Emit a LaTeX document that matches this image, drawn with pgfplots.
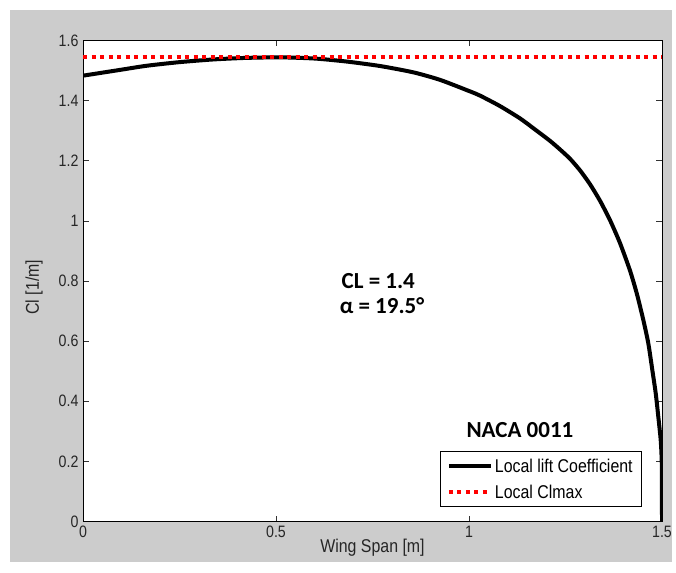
\documentclass[border=0pt]{standalone}
\usepackage{pgfplots}
\pgfplotsset{compat=1.18}
\usepackage{fontspec}
\setmainfont{Liberation Sans}[FakeStretch=0.86]
\newfontfamily\calibri{Carlito}
\definecolor{figgray}{RGB}{204,204,204}

\begin{document}
\begin{tikzpicture}[x=1pt,y=1pt]
\fill[white] (0,0) rectangle (676,572);
\fill[figgray] (10,10) rectangle (672,562);
\begin{axis}[
  at={(83pt,50.5pt)}, anchor=south west,
  scale only axis, width=579pt, height=481pt,
  xmin=0, xmax=1.5, ymin=0, ymax=1.6,
  xtick={0,0.5,1,1.5},
  ytick={0,0.2,0.4,0.6,0.8,1,1.2,1.4,1.6},
  tick align=inside, tick pos=both,
  major tick length=6pt,
  axis line style={black, line width=0.8pt},
  every tick/.style={black!80, line width=0.6pt},
  axis background/.style={fill=white},
  /pgf/number format/assume math mode=true,
  tick label style={font=\fontsize{16.5}{19}\selectfont, text=black!85},
  xticklabel style={yshift=-1pt},
  yticklabel style={xshift=-1pt},
  xlabel={Wing Span [m]},
  ylabel={Cl [1/m]},
  label style={font=\fontsize{18.5}{22}\selectfont, text=black!85},
  xlabel style={at={(axis description cs:0.5,-0.055)}, anchor=center},
  ylabel style={at={(axis description cs:-0.0846,0.487)}, anchor=center},
  legend style={at={(rel axis cs:0.9655,0.030)}, anchor=south east,
    font=\fontsize{18.5}{22}\selectfont, draw=black, line width=0.8pt, fill=white,
    inner xsep=7pt, inner ysep=5pt, row sep=7pt, cells={anchor=west}},
  legend image code/.code={\draw[#1] (0pt,0pt) -- (42pt,0pt);},
]
\addplot[black, line width=4pt, line join=round, smooth, tension=0.4] table {
x y
0 1.483
0.05 1.493
0.1 1.503
0.165 1.516
0.25 1.528
0.338 1.537
0.42 1.542
0.51 1.544
0.6 1.540
0.683 1.530
0.77 1.515
0.856 1.494
0.925 1.469
1.0 1.432
1.028 1.417
1.08 1.382
1.132 1.341
1.17 1.305
1.21 1.266
1.2358 1.2375
1.2617 1.2066
1.2876 1.1680
1.3135 1.1218
1.3394 1.0669
1.3653 1.0023
1.3912 0.9261
1.4171 0.8347
1.4345 0.7591
1.4516 0.6703
1.4645 0.5928
1.4749 0.5040
1.4837 0.4265
1.4904 0.3487
1.4966 0.2711
1.4992 0.2046
1.4998 0.12
1.5 0
};
\addlegendentry{Local lift Coefficient}
\addplot[red, line width=4pt, dash pattern=on 4pt off 4.5pt] coordinates {(0,1.545) (1.5,1.545)};
\addlegendentry{Local Clmax}
\node[anchor=west, font=\calibri\bfseries\fontsize{23}{27}\selectfont] at (axis cs:0.661,0.80) {CL = 1.4};
\node[anchor=west, font=\calibri\bfseries\fontsize{23}{27}\selectfont] at (axis cs:0.656,0.717) {α = 19.5°};
\node[anchor=center, font=\calibri\bfseries\fontsize{23}{27}\selectfont] at (axis cs:1.132,0.304) {NACA 0011};
\end{axis}
\end{tikzpicture}
\end{document}
